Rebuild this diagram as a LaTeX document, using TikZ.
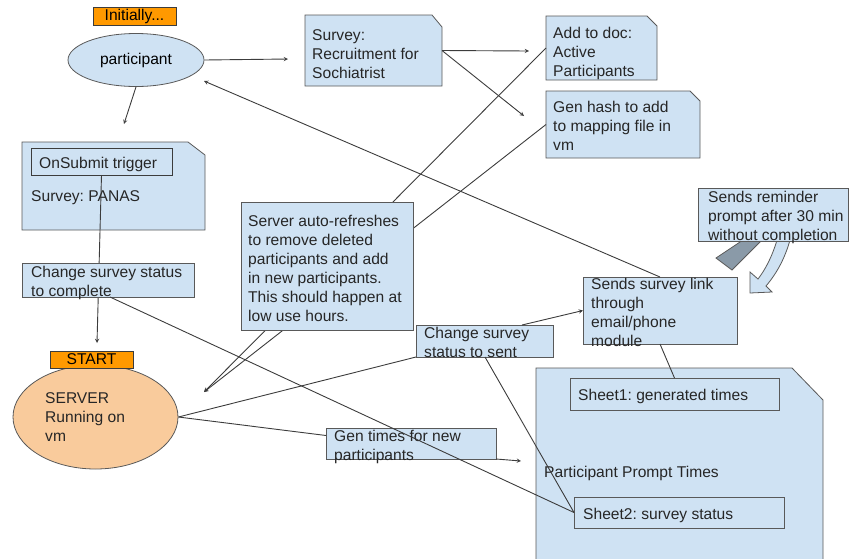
\documentclass[tikz,border=0pt]{standalone}
\usepackage{fontspec}
\setmainfont{Liberation Sans}
\usetikzlibrary{shapes.geometric}
\frenchspacing

\definecolor{noteblue}{HTML}{CFE2F3}
\definecolor{edgegray}{HTML}{595959}
\definecolor{inkgray}{HTML}{3C3C3C}
\definecolor{tagorange}{HTML}{FF9900}
\definecolor{serverpeach}{HTML}{F9CB9C}
\definecolor{stubgray}{HTML}{8A9AA8}

\newcommand{\diagfont}{\fontsize{15.6}{19}\selectfont}
% box with a cut top right corner, drawn over an empty node
\newcommand{\dogear}[3]{%
  \filldraw[fill=noteblue,draw=edgegray,line width=0.8pt]
    (#1.south west) -- (#1.north west) -- ([xshift=-#2]#1.north east)
    -- ([yshift=-#3]#1.north east) -- (#1.south east) -- cycle;}

\begin{document}
\begin{tikzpicture}[
    x=1pt, y=-1pt,
    >=stealth,
    area/.style={
      anchor=north west,
      inner sep=0pt,
      outer sep=0pt
    },
    note/.style={
      area,
      draw=edgegray,
      fill=noteblue,
      line width=0.8pt
    },
    tag/.style={
      area,
      draw=inkgray,
      fill=tagorange,
      line width=0.8pt,
      font=\diagfont
    },
    blob/.style={
      ellipse,
      draw=edgegray,
      line width=0.8pt,
      inner sep=0pt,
      font=\diagfont
    },
    txt/.style={
      anchor=north west,
      inner sep=0pt,
      align=left,
      font=\diagfont,
      text=black!85
    },
    link/.style={
      draw=inkgray,
      line width=0.9pt
    }
  ]
    \useasboundingbox (0,0) rectangle (849,558);

    % free ends of the arrows
    \foreach \n/\x/\y in {recruit/288/59,panas/124/124,adddoc/529/51,genhash/524/116,server/204/392,start/97/343,prompt/521/461,participant/204/81}
      \coordinate (tip-\n) at (\x,\y);

    % participant
    \node[tag, minimum width=83pt, minimum height=18pt] (init) at (93,7) {Initially...};
    \node[blob, fill=noteblue, minimum width=136pt, minimum height=53pt] (participant) at (136,60) {participant};

    % recruitment survey and what it feeds
    \node[area, minimum width=137pt, minimum height=71pt] (recruit) at (305,15) {};
    \dogear{recruit}{10pt}{12pt}
    \node[txt] (recruit-t) at (312,29) {Survey:\\Recruitment for\\Sochiatrist};
    \node[area, minimum width=111pt, minimum height=64pt] (adddoc) at (546,16) {};
    \dogear{adddoc}{10pt}{10pt}
    \node[txt] (adddoc-t) at (553,27) {Add to doc:\\Active\\Participants};
    \node[area, minimum width=154pt, minimum height=67pt] (genhash) at (546,91) {};
    \dogear{genhash}{10pt}{10pt}
    \node[txt] (genhash-t) at (553,101) {Gen hash to add\\to mapping file in\\vm};

    % server
    \node[blob, fill=serverpeach, minimum width=165pt, minimum height=104pt] (server) at (95.5,417) {};
    \node[txt] (server-t) at (45,392) {SERVER\\Running on\\vm};
    \node[tag, minimum width=83pt, minimum height=17pt] (start) at (50,351) {START};

    \draw[link,->] (adddoc.west) -- (tip-server);
    \draw[link,->] (genhash.west) -- (tip-server);
    \node[note, minimum width=172pt, minimum height=128pt] (refresh) at (241,202) {};
    \node[txt] (refresh-t) at (248,215) {Server auto-refreshes\\to remove deleted\\participants and add\\in new participants.\\This should happen at\\low use hours.};

    % PANAS survey
    \node[area, minimum width=183pt, minimum height=88pt] (panas) at (22,142) {};
    \dogear{panas}{17pt}{13pt}
    \node[txt] (panas-t) at (31,190) {Survey: PANAS};
    \node[note, draw=inkgray, minimum width=141pt, minimum height=27pt] (onsubmit) at (31,148) {};
    \node[txt] (onsubmit-t) at (39,157) {OnSubmit trigger};
    \draw[link,->] (onsubmit.south) -- (tip-start);
    \node[note, minimum width=172pt, minimum height=34pt] (complete) at (22,263) {};
    \node[txt] (complete-t) at (31,266) {Change survey status\\to complete};

    % prompt times sheet
    \node[note, minimum width=170pt, minimum height=31pt] (gentimes) at (326,428) {};
    \node[txt] (gentimes-t) at (334,430) {Gen times for new\\participants};
    \node[area, minimum width=287pt, minimum height=200pt] (prompt) at (536,368) {};
    \dogear{prompt}{31pt}{32pt}
    \node[txt] (prompt-t) at (544,466) {Participant Prompt Times};
    \node[note, minimum width=209pt, minimum height=32pt] (sheet1) at (570,378) {};
    \node[txt] (sheet1-t) at (578,389) {Sheet1: generated times};
    \node[note, minimum width=210pt, minimum height=31pt] (sheet2) at (574,497) {};
    \node[txt] (sheet2-t) at (583,508) {Sheet2: survey status};

    % sending
    \node[note, minimum width=137pt, minimum height=32pt] (sent) at (416,325) {};
    \node[txt] (sent-t) at (424,327) {Change survey\\status to sent};
    \node[note, minimum width=154pt, minimum height=67pt] (sendlink) at (583,277) {};
    \node[txt] (sendlink-t) at (591,278) {Sends survey link\\through\\email/phone\\module};

    % reminder loop
    \filldraw[draw=edgegray, fill=stubgray, line width=0.8pt] (743,240) -- (762,240) -- (732,270) -- (716,258) -- cycle;
    \filldraw[draw=edgegray, fill=noteblue, line width=0.8pt] (777,240) .. controls (772,257) and (765,270) .. (758,279) -- (750,272) -- (750,293) -- (772,292) -- (766,286) .. controls (777,273) and (785,258) .. (790,240) -- cycle;
    \node[note, minimum width=150pt, minimum height=53pt] (reminder) at (698,188) {};
    \node[txt] (reminder-t) at (708,191) {Sends reminder\\prompt after 30 min\\without completion};

    % connectors
    \draw[link,->] (participant.east) -- (tip-recruit);
    \draw[link,->] (participant.south) -- (tip-panas);
    \draw[link,->] (sendlink.north) -- (tip-participant);
    \draw[link,->] (recruit.east) -- (tip-adddoc);
    \draw[link,->] (recruit.east) -- (tip-genhash);
    \draw[link] (server.east) -- (sent.south west);
    \draw[link,->] ([xshift=-31pt]sent.north east) -- (sendlink.west);
    \draw[link] ([xshift=-68pt]sent.south east) -- (sheet2.west);
    \draw[link] ([xshift=88pt]complete.south west) -- (sheet2.west);
    \draw[link] (server.east) -- ([yshift=8pt]gentimes.west);
    \draw[link,->] (gentimes.south east) -- (tip-prompt);
    \draw[link] (sendlink.south) -- (sheet1.north);
  \end{tikzpicture}
\end{document}
